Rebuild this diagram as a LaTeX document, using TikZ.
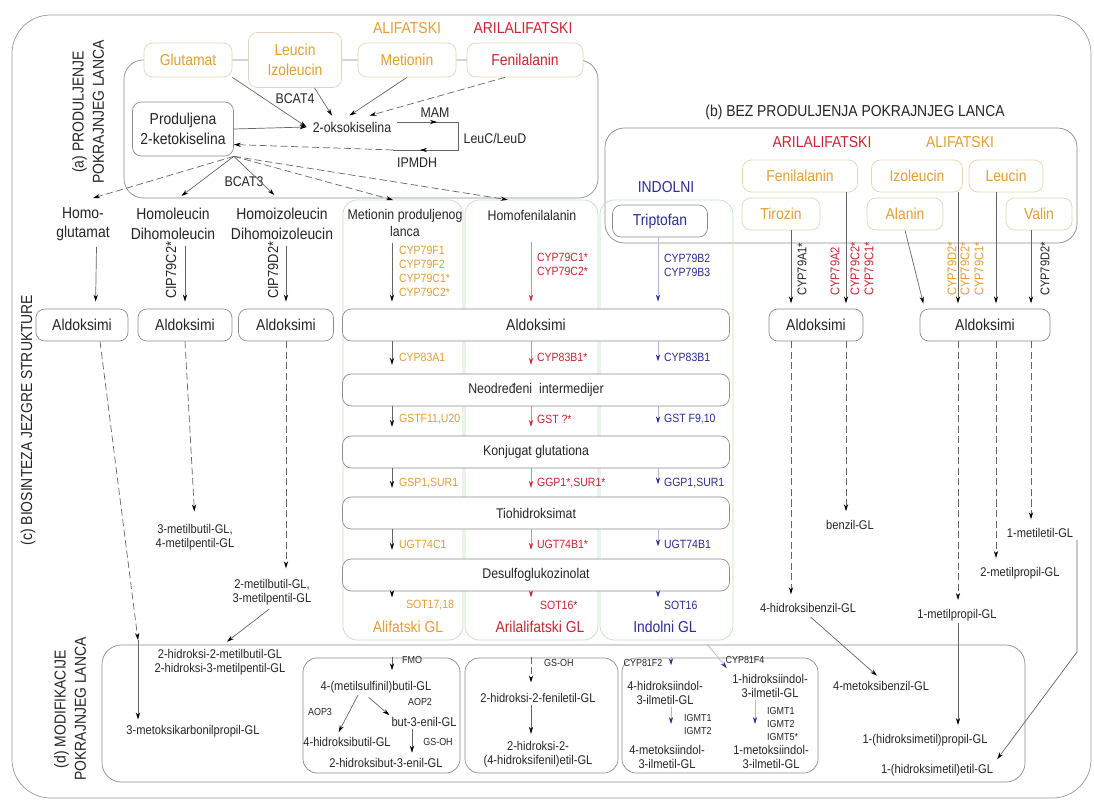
\documentclass[tikz,border=0pt]{standalone}
\usepackage{fontspec}
\setmainfont{Liberation Sans}[FakeStretch=0.88]
\usetikzlibrary{calc,arrows.meta}

\definecolor{alifcol}{RGB}{228,158,52}
\definecolor{arilcol}{RGB}{200,38,52}
\definecolor{indcol}{RGB}{45,45,150}
\definecolor{colgreen}{RGB}{196,224,196}
\definecolor{aabord}{RGB}{228,214,180}

\newcommand{\fmain}{\fontsize{9}{11}\selectfont}
\newcommand{\fmid}{\fontsize{8}{9.5}\selectfont}
\newcommand{\fsmall}{\fontsize{7.2}{7.9}\selectfont}
\newcommand{\fenz}{\fontsize{6.8}{7.9}\selectfont}
\newcommand{\ftiny}{\fontsize{5.8}{7.4}\selectfont}

\begin{document}
\begin{tikzpicture}[x=0.02cm, y=-0.02cm,
  every node/.style={font=\fmain, text=black!85},
  aabox/.style={draw=aabord, rounded corners=5pt, fill=white, text=alifcol, align=center, minimum height=0.64cm},
  stepbox/.style={draw=black!45, rounded corners=5pt, fill=white, minimum height=0.64cm},
  colbox/.style={draw=colgreen, rounded corners=8pt},
  secbox/.style={draw=black!45, rounded corners=11pt},
  enz/.style={font=\fenz, align=left, inner sep=1pt},
  gl/.style={font=\fsmall, align=center, inner sep=1pt},
  dlab/.style={font=\ftiny, align=left, inner sep=1pt},
  rlab/.style={rotate=90, anchor=west, font=\fsmall, align=left, inner sep=1pt},
  arr/.style={draw=black!60, -{Stealth[length=4pt, width=2.4pt, color=black]}},
  ararr/.style={draw=arilcol!55, -{Stealth[length=4pt, width=2.4pt, color=arilcol]}},
  inarr/.style={draw=indcol!35, -{Stealth[length=4pt, width=2.4pt, color=indcol]}},
  dsh/.style={dash pattern=on 4pt off 2pt}]

  \fill[white] (0,0) rectangle (1094,800);
  \useasboundingbox (0,0) rectangle (1094,800);

  % Frames
  \draw[black!40, rounded corners=22pt] (12,15) rectangle (1091,798);
  \draw[secbox] (124,60) rectangle (598,198);
  \draw[secbox] (605,128) rectangle (1077,243);
  \draw[secbox] (102,645) rectangle (1025,782);
  \draw[colbox] (343,200) rectangle (463,640);
  \draw[colbox] (465,200) rectangle (598,640);
  \draw[colbox] (600,200) rectangle (733,640);
  \draw[secbox, rounded corners=8pt] (303,658) rectangle (460,773);
  \draw[secbox, rounded corners=8pt] (465,658) rectangle (618,773);
  \draw[secbox, rounded corners=8pt] (622,658) rectangle (818,773);

  % Section titles
  \node[rotate=90, align=center, font=\fontsize{9}{11.5}\selectfont] (sa) at (88,112) {(a) PRODULJENJE\\POKRAJNJEG LANCA};
  \node (sb) at (855,112) {(b) BEZ PRODULJENJA POKRAJNJEG LANCA};
  \node[rotate=90] (sc) at (28,420) {(c) BIOSINTEZA JEZGRE STRUKTURE};
  \node[rotate=90, align=center, font=\fontsize{9}{11.5}\selectfont] (sd) at (70,709) {(d) MODIFIKACIJE\\POKRAJNJEG LANCA};
  \node[text=alifcol] (hal1) at (407,28) {ALIFATSKI};
  \node[text=arilcol] (har1) at (523,28) {ARILALIFATSKI};
  \node[text=arilcol] (har2) at (822,142) {ARILALIFATSKI};
  \node[text=alifcol] (hal2) at (960,142) {ALIFATSKI};
  \node[text=indcol] (hin) at (666,187) {INDOLNI};

  % (a) amino acids and side chain elongation
  \node[aabox, minimum width=1.76cm, minimum height=0.68cm] (glu) at (188,60) {Glutamat};
  \node[aabox, minimum width=1.86cm, minimum height=1.1cm] (leu) at (295,60) {Leucin\\Izoleucin};
  \node[aabox, minimum width=1.96cm, minimum height=0.68cm] (met) at (407,60) {Metionin};
  \node[aabox, minimum width=2.32cm, minimum height=0.68cm, text=arilcol] (fen) at (525,60) {Fenilalanin};
  \node[stepbox, align=center, minimum width=2.02cm, minimum height=1.08cm] (prod) at (183,129) {Produljena\\2-ketokiselina};
  \node[font=\fmid] (oks) at (352,127) {2-oksokiselina};
  \node[font=\fmid] (bcat4) at (295,99) {BCAT4};
  \node[font=\fmid] (mam) at (435,113) {MAM};
  \node[font=\fmid] (leucd) at (495,138) {LeuC/LeuD};
  \node[font=\fmid] (ipmdh) at (417,163) {IPMDH};
  \node[font=\fmid] (bcat3) at (244,182) {BCAT3};

  \draw[arr] (glu.south east) -- (oks.west);
  \draw[arr] (leu.-55) -- ([xshift=-0.4cm]oks.north);
  \draw[arr] (met.south) -- ([xshift=-0.05cm]oks.north);
  \draw[arr, dsh] ([xshift=-0.4cm]fen.south) -- ([xshift=0.35cm]oks.north);
  \draw[arr] (prod.east) -- (oks.west);

  \coordinate (cy1) at (458,122);
  \coordinate (cy2) at (458,150);
  \coordinate (cy3) at (393,150);
  \coordinate (mk1) at (437,122);
  \coordinate (mk2) at (420,150);
  \draw[black!60] (cy1 -| oks.east) -- (cy1) -- (cy2) -- (cy3);
  \draw[arr] (cy1 -| oks.east) -- (mk1);
  \draw[arr] (cy2) -- (mk2);
  \draw[arr, dsh] (cy3) -- (prod.-17);

  % products of elongation
  \node[align=center] (hglu) at (83,224) {Homo-\\glutamat};
  \node[align=center] (hleu) at (173,224) {Homoleucin\\Dihomoleucin};
  \node[align=center] (hiz) at (282,224) {Homoizoleucin\\Dihomoizoleucin};
  \node[align=center, font=\fmid] (metp) at (405,223) {Metionin produljenog\\lanca};
  \node[font=\fmid] (hfen) at (532,215) {Homofenilalanin};
  \node[stepbox, text=indcol, minimum width=1.9cm] (trp) at (660,221) {Triptofan};

  \draw[arr, dsh, shorten >=6pt] (prod.south east) -- (hglu.north);
  \draw[arr, shorten >=6pt] (prod.south east) -- (hleu.north);
  \draw[arr, shorten >=6pt] (prod.south east) -- (hiz.north);
  \draw[arr, dsh, shorten >=7pt] (prod.south east) -- (metp.north);
  \draw[arr, dsh, shorten >=14pt] (prod.south east) -- (hfen.north);

  % (c) left aldoximes
  \node[stepbox, minimum width=1.84cm] (ald1) at (82,325) {Aldoksimi};
  \node[stepbox, minimum width=1.88cm] (ald2) at (185,325) {Aldoksimi};
  \node[stepbox, minimum width=1.9cm] (ald3) at (286,325) {Aldoksimi};
  \draw[arr, shorten >=4pt] ([xshift=0.27cm]hglu.south) -- ([xshift=0.27cm]ald1.north);
  \draw[arr, shorten >=4pt] (hleu.south -| ald2.north) -- (ald2.north);
  \draw[arr, shorten >=4pt] (hiz.south -| ald3.north) -- (ald3.north);
  \node[rotate=90, anchor=west, font=\fontsize{8.3}{9}\selectfont, inner sep=1pt] (cipc) at (171,301) {CIP79C2*};
  \node[rotate=90, anchor=west, font=\fontsize{8.3}{9}\selectfont, inner sep=1pt] (cipd) at (273,301) {CIP79D2*};

  % (c) core structure, three columns
  \node[stepbox, minimum width=7.74cm] (ald) at (536,325) {Aldoksimi};
  \node[stepbox, minimum width=7.74cm, font=\fmid] (neo) at (536,390) {Neodređeni\ \ intermedijer};
  \node[stepbox, minimum width=7.74cm, font=\fmid] (konj) at (536,452) {Konjugat glutationa};
  \node[stepbox, minimum width=7.74cm, font=\fmid] (tio) at (536,513) {Tiohidroksimat};
  \node[stepbox, minimum width=7.74cm, font=\fmid] (desulf) at (536,575) {Desulfoglukozinolat};

  \coordinate (c1) at (392,0);
  \coordinate (c2) at (531,0);
  \coordinate (c3) at (658,0);
  \draw[arr, shorten >=4pt] (metp.south -| c1) -- (ald.north -| c1);
  \draw[ararr, shorten <=9pt, shorten >=4pt] (hfen.south -| c2) -- (ald.north -| c2);
  \draw[inarr, shorten >=4pt] (trp.south -| c3) -- (ald.north -| c3);
  \foreach \a/\b in {ald/neo, neo/konj, konj/tio, tio/desulf} {
    \draw[arr, shorten >=5pt] (\a.south -| c1) -- (\b.north -| c1);
    \draw[ararr, shorten >=5pt] (\a.south -| c2) -- (\b.north -| c2);
    \draw[inarr, shorten >=7pt] (\a.south -| c3) -- (\b.north -| c3);
  }

  \node[enz, text=alifcol, anchor=north west] (e11) at (397,244) {CYP79F1\\CYP79F2\\CYP79C1*\\CYP79C2*};
  \node[enz, text=arilcol, anchor=north west] (e21) at (535,251) {CYP79C1*\\CYP79C2*};
  \node[enz, text=indcol, anchor=north west] (e31) at (662,252) {CYP79B2\\CYP79B3};
  \node[enz, text=alifcol, anchor=west] (e12) at (397,357) {CYP83A1};
  \node[enz, text=arilcol, anchor=west] (e22) at (535,357) {CYP83B1*};
  \node[enz, text=indcol, anchor=west] (e32) at (662,357) {CYP83B1};
  \node[enz, text=alifcol, anchor=west] (e13) at (397,419) {GSTF11,U20};
  \node[enz, text=arilcol, anchor=west] (e23) at (535,419) {GST ?*};
  \node[enz, text=indcol, anchor=west] (e33) at (662,419) {GST F9,10};
  \node[enz, text=alifcol, anchor=west] (e14) at (397,483) {GSP1,SUR1};
  \node[enz, text=arilcol, anchor=west] (e24) at (535,483) {GGP1*,SUR1*};
  \node[enz, text=indcol, anchor=west] (e34) at (662,483) {GGP1,SUR1};
  \node[enz, text=alifcol, anchor=west] (e15) at (397,544) {UGT74C1};
  \node[enz, text=arilcol, anchor=west] (e25) at (535,544) {UGT74B1*};
  \node[enz, text=indcol, anchor=west] (e35) at (662,544) {UGT74B1};
  \node[enz, text=alifcol, anchor=west] (e16) at (404,605) {SOT17,18};
  \node[enz, text=arilcol, anchor=west] (e26) at (538,605) {SOT16*};
  \node[enz, text=indcol, anchor=west] (e36) at (662,605) {SOT16};

  \node[text=alifcol] (alGL) at (408,627) {Alifatski GL};
  \node[text=arilcol] (arGL) at (540,627) {Arilalifatski GL};
  \node[text=indcol] (inGL) at (665,627) {Indolni GL};
  \draw[arr, shorten >=10pt] (desulf.south -| c1) -- (alGL.north -| c1);
  \draw[ararr, shorten >=10pt] (desulf.south -| c2) -- (arGL.north -| c2);
  \draw[inarr, shorten >=10pt] (desulf.south -| c3) -- (inGL.north -| c3);

  % (c) left glucosinolates
  \node[gl] (mb1) at (195,537) {3-metilbutil-GL,\\4-metilpentil-GL};
  \node[gl] (mb2) at (272,592) {2-metilbutil-GL,\\3-metilpentil-GL};
  \node[gl] (hmb) at (220,662) {2-hidroksi-2-metilbutil-GL\\2-hidroksi-3-metilpentil-GL};
  \node[gl] (mko) at (193,731) {3-metoksikarbonilpropil-GL};
  \coordinate (dtop) at (138,640);
  \draw[arr, dsh] ([xshift=0.36cm]ald1.south) -- (dtop);
  \draw[arr, shorten >=2pt] (dtop) -- (mko.north -| dtop);
  \draw[arr, dsh, shorten >=6pt] (ald2.south) -- (mb1.north);
  \draw[arr, dsh, shorten >=5pt] (ald3.south) -- (ald3.south |- mb2.north);
  \draw[arr, shorten <=2pt, shorten >=5pt] (mb2.south) -- (hmb.north);

  % (b) amino acids
  \node[aabox, minimum width=2.3cm] (fenb) at (800,176) {Fenilalanin};
  \node[aabox, minimum width=1.56cm] (tir) at (781,214) {Tirozin};
  \node[aabox, minimum width=1.82cm] (izo) at (917,176) {Izoleucin};
  \node[aabox, minimum width=1.48cm] (leub) at (1006,176) {Leucin};
  \node[aabox, minimum width=1.52cm] (ala) at (905,214) {Alanin};
  \node[aabox, minimum width=1.32cm] (val) at (1039,214) {Valin};
  \node[stepbox, minimum width=1.88cm] (aldL) at (816,325) {Aldoksimi};
  \node[stepbox, minimum width=2.6cm] (aldR) at (985,325) {Aldoksimi};

  \coordinate (xA) at (791,0);
  \coordinate (xB) at (846,0);
  \coordinate (xC) at (958,0);
  \coordinate (xD) at (996,0);
  \coordinate (xE) at (1031,0);
  \draw[arr, shorten >=3pt] (tir.south -| xA) -- (aldL.north -| xA);
  \draw[arr, shorten >=3pt] (fenb.south -| xB) -- (aldL.north -| xB);
  \draw[arr, shorten >=3pt] (ala.south) -- ([xshift=0.1cm]aldR.north west);
  \draw[arr, shorten >=3pt] (izo.south -| xC) -- (aldR.north -| xC);
  \draw[arr, shorten >=3pt] (leub.south -| xD) -- (aldR.north -| xD);
  \draw[arr, shorten >=3pt] (val.south -| xE) -- (aldR.north -| xE);
  \node[rlab] (ra1) at (802,298) {CYP79A1*};
  \node[rlab, text=arilcol] (ra2) at (835,298) {CYP79A2};
  \node[rlab, text=arilcol] (ra3) at (862,298) {CYP79C2*\\CYP79C1*};
  \node[rlab, text=alifcol] (ra4) at (952,298) {CYP79D2*};
  \node[rlab, text=alifcol] (ra5) at (972,298) {CYP79C2*\\CYP79C1*};
  \node[rlab] (ra6) at (1045,298) {CYP79D2*};

  % (b) glucosinolates
  \node[gl] (bz) at (850,525) {benzil-GL};
  \node[gl] (hbz) at (808,608) {4-hidroksibenzil-GL};
  \node[gl] (mbz) at (881,686) {4-metoksibenzil-GL};
  \node[gl] (me1) at (1040,533) {1-metiletil-GL};
  \node[gl] (mp2) at (1020,573) {2-metilpropil-GL};
  \node[gl] (mp1) at (957,615) {1-metilpropil-GL};
  \node[gl] (hmp) at (925,740) {1-(hidroksimetil)propil-GL};
  \node[gl] (hme) at (937,770) {1-(hidroksimetil)etil-GL};
  \draw[arr, dsh, shorten >=4pt] (aldL.south -| xA) -- (hbz.north -| xA);
  \draw[arr, dsh, shorten >=4pt] (aldL.south -| xB) -- (bz.north -| xB);
  \draw[arr, dsh, shorten >=4pt] (aldR.south -| xC) -- (mp1.north -| xC);
  \draw[arr, dsh, shorten >=4pt] (aldR.south -| xD) -- (mp2.north -| xD);
  \draw[arr, dsh, shorten >=4pt] (aldR.south -| xE) -- (me1.north -| xE);
  \draw[arr, shorten <=2pt, shorten >=3pt] (hbz.south) -- (mbz.north);
  \draw[arr, shorten >=4pt] (mp1.south -| xC) -- (hmp.north -| xC);
  \coordinate (bend) at (1077,652);
  \draw[arr, shorten >=2pt] (me1.south east -| bend) -- (bend) -- (hme.north east);

  % (d) aliphatic modifications
  \node[gl] (msb) at (376,687) {4-(metilsulfinil)butil-GL};
  \node[dlab, anchor=west] (fmo) at (400,660) {FMO};
  \draw[arr, shorten <=10pt, shorten >=5pt] (alGL.south -| c1) -- (msb.north -| c1);
  \node[dlab] (aop3) at (320,712) {AOP3};
  \node[gl] (hb) at (347,742) {4-hidroksibutil-GL};
  \draw[arr, shorten >=2pt] ([xshift=-0.36cm]msb.south) -- ([xshift=-0.2cm]hb.north);
  \node[dlab] (aop2) at (420,702) {AOP2};
  \node[gl] (be3) at (424,722) {but-3-enil-GL};
  \draw[arr, shorten <=2pt] ([xshift=-0.2cm]msb.south) -- (be3.north west);
  \coordinate (c4) at (412,0);
  \node[gl] (hbe) at (386,763) {2-hidroksibut-3-enil-GL};
  \draw[arr, shorten >=2pt] (be3.south -| c4) -- (hbe.north -| c4);
  \node[dlab] (gsoh1) at (438,742) {GS-OH};

  % (d) arylaliphatic modifications
  \node[gl] (hfe) at (538,698) {2-hidroksi-2-feniletil-GL};
  \draw[arr, dsh, shorten <=10pt, shorten >=5pt] (arGL.south -| c2) -- (hfe.north -| c2);
  \node[dlab, anchor=west] (gsoh2) at (542,663) {GS-OH};
  \node[gl] (hhf) at (538,754) {2-hidroksi-2-\\(4-hidroksifenil)etil-GL};
  \draw[arr, shorten >=3pt] (hfe.south -| c2) -- (hhf.north -| c2);

  % (d) indole modifications
  \coordinate (c5) at (671,0);
  \coordinate (c6) at (755,0);
  \node[gl] (hi4) at (665,693) {4-hidroksiindol-\\3-ilmetil-GL};
  \node[gl] (hi1) at (770,686) {1-hidroksiindol-\\3-ilmetil-GL};
  \node[gl] (mi4) at (667,757) {4-metoksiindol-\\3-ilmetil-GL};
  \node[gl] (mi1) at (771,757) {1-metoksiindol-\\3-ilmetil-GL};
  \draw[inarr, shorten <=10pt, shorten >=8pt] (inGL.south -| c5) -- (hi4.north -| c5);
  \draw[inarr, shorten <=4pt, shorten >=3pt] (inGL.south east) -- (hi1.north west);
  \node[dlab] (cyp81f2) at (643,663) {CYP81F2};
  \node[dlab] (cyp81f4) at (745,660) {CYP81F4};
  \draw[inarr, shorten >=11pt] (hi4.south -| c5) -- (mi4.north -| c5);
  \node[dlab, anchor=west] (igmta) at (682,724) {IGMT1\\IGMT2};
  \draw[inarr, shorten >=11pt] (hi1.south -| c6) -- (mi1.north -| c6);
  \node[dlab, anchor=west] (igmtb) at (765,724) {IGMT1\\IGMT2\\IGMT5*};
\end{tikzpicture}
\end{document}
